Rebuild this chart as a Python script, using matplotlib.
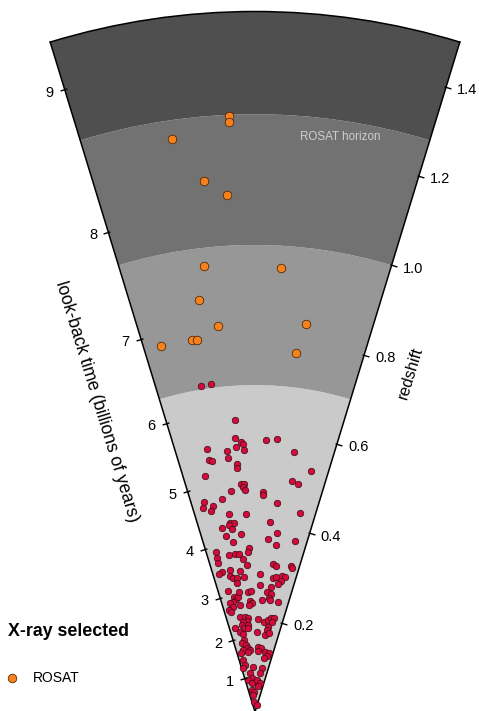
import numpy as np
import matplotlib
matplotlib.use("Agg")
import matplotlib.pyplot as plt
from matplotlib.path import Path
from matplotlib.markers import MarkerStyle
from matplotlib.transforms import Affine2D

plt.rcParams['font.family'] = ['Liberation Sans', 'DejaVu Sans']

# ---- survey shells (redshift bounds and fill colours) ----
band_z = [0.0, 0.70, 1.00, 1.28, 1.50]
band_colors = ['#cacaca', '#979797', '#727272', '#4f4f4f']

# ---- axis ticks ----
lookback_ticks = [1, 2, 3, 4, 5, 6, 7, 8, 9]          # billions of years
redshift_ticks = [0.2, 0.4, 0.6, 0.8, 1.0, 1.2, 1.4]
redshift_labels = ['0.2', '0.4', '0.6', '0.8', '1.0', '1.2', '1.4']

# ---- ROSAT clusters: angle within the slice (deg) and redshift ----
rosat_theta = [-2.53, -2.55, -8.28, -5.49, -3.07, -6.52, 3.31, -7.69,
               -5.51, 7.45, -9.66, -8.87, -14.46, 6.47]
rosat_z = [1.278, 1.265, 1.239, 1.142, 1.109, 0.962, 0.953, 0.891,
           0.831, 0.838, 0.807, 0.806, 0.809, 0.774]

# ---- low-redshift X-ray clusters ----
nearby_theta = [
    -9.50, -7.55, -3.92, -4.18, -3.04, -2.50, -4.04, -2.47, 2.32, 4.67,
    8.53, -10.33, -6.12, -6.06, -10.29, -9.79, -4.23, -4.28, 13.00, -11.91,
    9.13, 10.62, -3.43, -2.69, -2.97, -6.10, -2.58, 2.16, 2.11, -8.82,
    -13.75, -14.28, -11.46, -12.28, 6.02, -7.48, -2.52, 12.66, -7.52, -6.35,
    -8.02, -10.27, -7.14, 4.60, 6.92, -9.28, -4.59, 4.40, 7.07, 13.12,
    -7.47, -13.78, -1.99, -2.62, -9.39, -7.23, -5.89, -13.99,
    -14.08, -13.07, -14.57, -10.12, -10.58, -9.12, -7.65, -6.06, -4.64, -3.23,
    -8.09, 2.07, 2.25, -4.48, 6.93, 8.19, 13.90, 14.41, 7.76, 8.82,
    11.41, 12.56, 11.22, 10.34, 7.31,
    -12.45, -10.18, -9.69, -8.61, -11.13, -7.58, -3.20, -1.89, 5.72, 7.72,
    6.97, -12.95, -11.65, -14.30, -13.53, -7.98, -2.58, -1.74, -3.05, 3.42,
    7.63, 11.63, -9.04, -5.99, -4.09, -5.21, -7.38, -8.69, -7.23, -13.44,
    -10.58, -8.56, -4.76, -4.58, 2.03, 5.92, 8.23, 9.69, 11.64, 10.85,
    8.86, 8.12, 7.40, 10.09, 1.21, -8.45, -10.96, -7.90, -6.54, -10.69,
    -13.41, -4.61, -6.34, 2.89, 5.38, 2.53, 9.42, 13.41, 11.74, 9.83,
    -12.68, -12.01, -2.15, 8.72, 7.36, -14.99, -7.36, -4.58, -11.83, 0.00,
    -6.56, 3.04, 9.88, 6.09, -7.00, -2.03, -5.71, -3.90, 13.60,
]
nearby_z = [
    0.707, 0.709, 0.626, 0.588, 0.578, 0.575, 0.568, 0.561, 0.582, 0.586,
    0.563, 0.573, 0.562, 0.548, 0.548, 0.546, 0.532, 0.525, 0.530, 0.516,
    0.500, 0.496, 0.490, 0.488, 0.483, 0.477, 0.475, 0.472, 0.466, 0.461,
    0.462, 0.451, 0.449, 0.440, 0.449, 0.428, 0.424, 0.437, 0.409, 0.407,
    0.404, 0.400, 0.396, 0.408, 0.386, 0.381, 0.382, 0.372, 0.360, 0.375,
    0.367, 0.353, 0.351, 0.342, 0.341, 0.340, 0.340, 0.339,
    0.328, 0.308, 0.306, 0.308, 0.297, 0.291, 0.290, 0.304, 0.291, 0.315,
    0.278, 0.296, 0.273, 0.329, 0.319, 0.316, 0.321, 0.318, 0.290, 0.293,
    0.296, 0.296, 0.286, 0.278, 0.269,
    0.265, 0.251, 0.246, 0.248, 0.241, 0.260, 0.257, 0.259, 0.258, 0.255,
    0.247, 0.239, 0.230, 0.225, 0.220, 0.231, 0.238, 0.233, 0.230, 0.240,
    0.242, 0.241, 0.205, 0.205, 0.201, 0.196, 0.195, 0.188, 0.182, 0.184,
    0.175, 0.168, 0.188, 0.180, 0.199, 0.193, 0.199, 0.204, 0.205, 0.197,
    0.185, 0.177, 0.166, 0.171, 0.172, 0.156, 0.150, 0.145, 0.137, 0.135,
    0.129, 0.133, 0.130, 0.140, 0.137, 0.131, 0.131, 0.129, 0.123, 0.117,
    0.114, 0.103, 0.097, 0.095, 0.084, 0.097, 0.084, 0.072, 0.070, 0.065,
    0.062, 0.069, 0.062, 0.055, 0.048, 0.042, 0.037, 0.022, 0.015,
]

HALF_ANGLE = 17.0
Z_MAX = band_z[-1]

# flat LCDM (H0 = 70, Omega_m = 0.3): look-back time as a function of z
H0, OM = 70.0, 0.3
hubble_time = 977.8 / H0
zgrid = np.linspace(0.0, 2.0, 4001)
integrand = 1.0 / ((1 + zgrid) * np.sqrt(OM * (1 + zgrid) ** 3 + (1 - OM)))
tgrid = hubble_time * np.concatenate(
    [[0.0], np.cumsum(0.5 * (integrand[1:] + integrand[:-1]) * np.diff(zgrid))])
lookback_tick_z = np.interp(lookback_ticks, tgrid, zgrid)

W, H = 479, 711
fig = plt.figure(figsize=(W / 100, H / 100), dpi=100)
# square box; the slice is scaled to its height and centred horizontally
side = 700.5
ax = fig.add_axes([(255 - side / 2) / W, -1.0 / H, side / W, side / H],
                  projection='polar')
ax.set_theta_zero_location('N')
ax.set_theta_direction(-1)
ax.set_thetamin(-HALF_ANGLE)
ax.set_thetamax(HALF_ANGLE)
ax.set_ylim(0, Z_MAX)
ax.set_xticks([])
ax.set_yticks([])
ax.grid(False)
ax.set_facecolor('white')
for name, sp in ax.spines.items():
    sp.set_color('black')
    sp.set_linewidth(1.1)
ax.spines['inner'].set_visible(False)

# shells
width = np.deg2rad(2 * HALF_ANGLE)
for lo, hi, col in zip(band_z[:-1], band_z[1:], band_colors):
    ax.bar(0.0, hi - lo, width=width, bottom=lo, color=col,
           edgecolor='none', align='center', zorder=1)

ax.text(np.deg2rad(8.41), 1.2446, 'ROSAT horizon', color='#cfcfcf',
        fontsize=8.4, ha='center', va='center', zorder=2)

# clusters
ax.scatter(np.deg2rad(nearby_theta), nearby_z, s=22, c='#d20b3d',
           edgecolors='#3b0a12', linewidths=0.5, zorder=3, clip_on=False)
rosat = ax.scatter(np.deg2rad(rosat_theta), rosat_z, s=38, c='#f5821f',
                   edgecolors='#4a2300', linewidths=0.55, zorder=4,
                   label='ROSAT')

# edge ticks and labels
c, s_ = np.cos(np.deg2rad(HALF_ANGLE)), np.sin(np.deg2rad(HALF_ANGLE))
tick_path = Path([(-2.0, 0.0), (5.0, 0.0)])
left_tick = MarkerStyle(tick_path, transform=Affine2D().rotate_deg(180 + HALF_ANGLE))
right_tick = MarkerStyle(tick_path, transform=Affine2D().rotate_deg(-HALF_ANGLE))
tick_kw = dict(linestyle='none', markersize=7.4, markeredgewidth=1.0,
               markeredgecolor='black', clip_on=False, zorder=5)

left_theta = np.deg2rad(-HALF_ANGLE)
right_theta = np.deg2rad(HALF_ANGLE)
ax.plot(np.full(len(lookback_tick_z), left_theta), lookback_tick_z,
        marker=left_tick, **tick_kw)
ax.plot(np.full(len(redshift_ticks), right_theta), redshift_ticks,
        marker=right_tick, **tick_kw)

off = 8.4
for t, z in zip(lookback_ticks, lookback_tick_z):
    ax.annotate(str(t), xy=(left_theta, z), xytext=(-off * c, -off * s_),
                textcoords='offset points', ha='right', va='center',
                fontsize=10.5, annotation_clip=False)
for lab, z in zip(redshift_labels, redshift_ticks):
    ax.annotate(lab, xy=(right_theta, z), xytext=(off * c, -off * s_),
                textcoords='offset points', ha='left', va='center',
                fontsize=10.5, annotation_clip=False)

# edge titles
d = 43.2
ax.annotate('look-back time (billions of years)', xy=(left_theta, 0.735),
            xytext=(-d * c, -d * s_), textcoords='offset points',
            rotation=-(90 - HALF_ANGLE), rotation_mode='anchor',
            ha='center', va='center', fontsize=12.7, annotation_clip=False)
d = 35.4
ax.annotate('redshift', xy=(right_theta, 0.791),
            xytext=(d * c, -d * s_), textcoords='offset points',
            rotation=(90 - HALF_ANGLE), rotation_mode='anchor',
            ha='center', va='center', fontsize=11.8, annotation_clip=False)

# key
fig.text(8.5 / W, 1 - 631 / H, 'X-ray selected', fontsize=12.8,
         fontweight='bold', ha='left', va='center')
fig.legend(handles=[rosat], labels=['ROSAT'], loc='center left',
           bbox_to_anchor=(5.0 / W, 1 - 677.5 / H), frameon=False,
           borderpad=0, borderaxespad=0, handlelength=1.0,
           handletextpad=1.0, fontsize=10, scatterpoints=1)

fig.savefig('out.png', dpi=100)
